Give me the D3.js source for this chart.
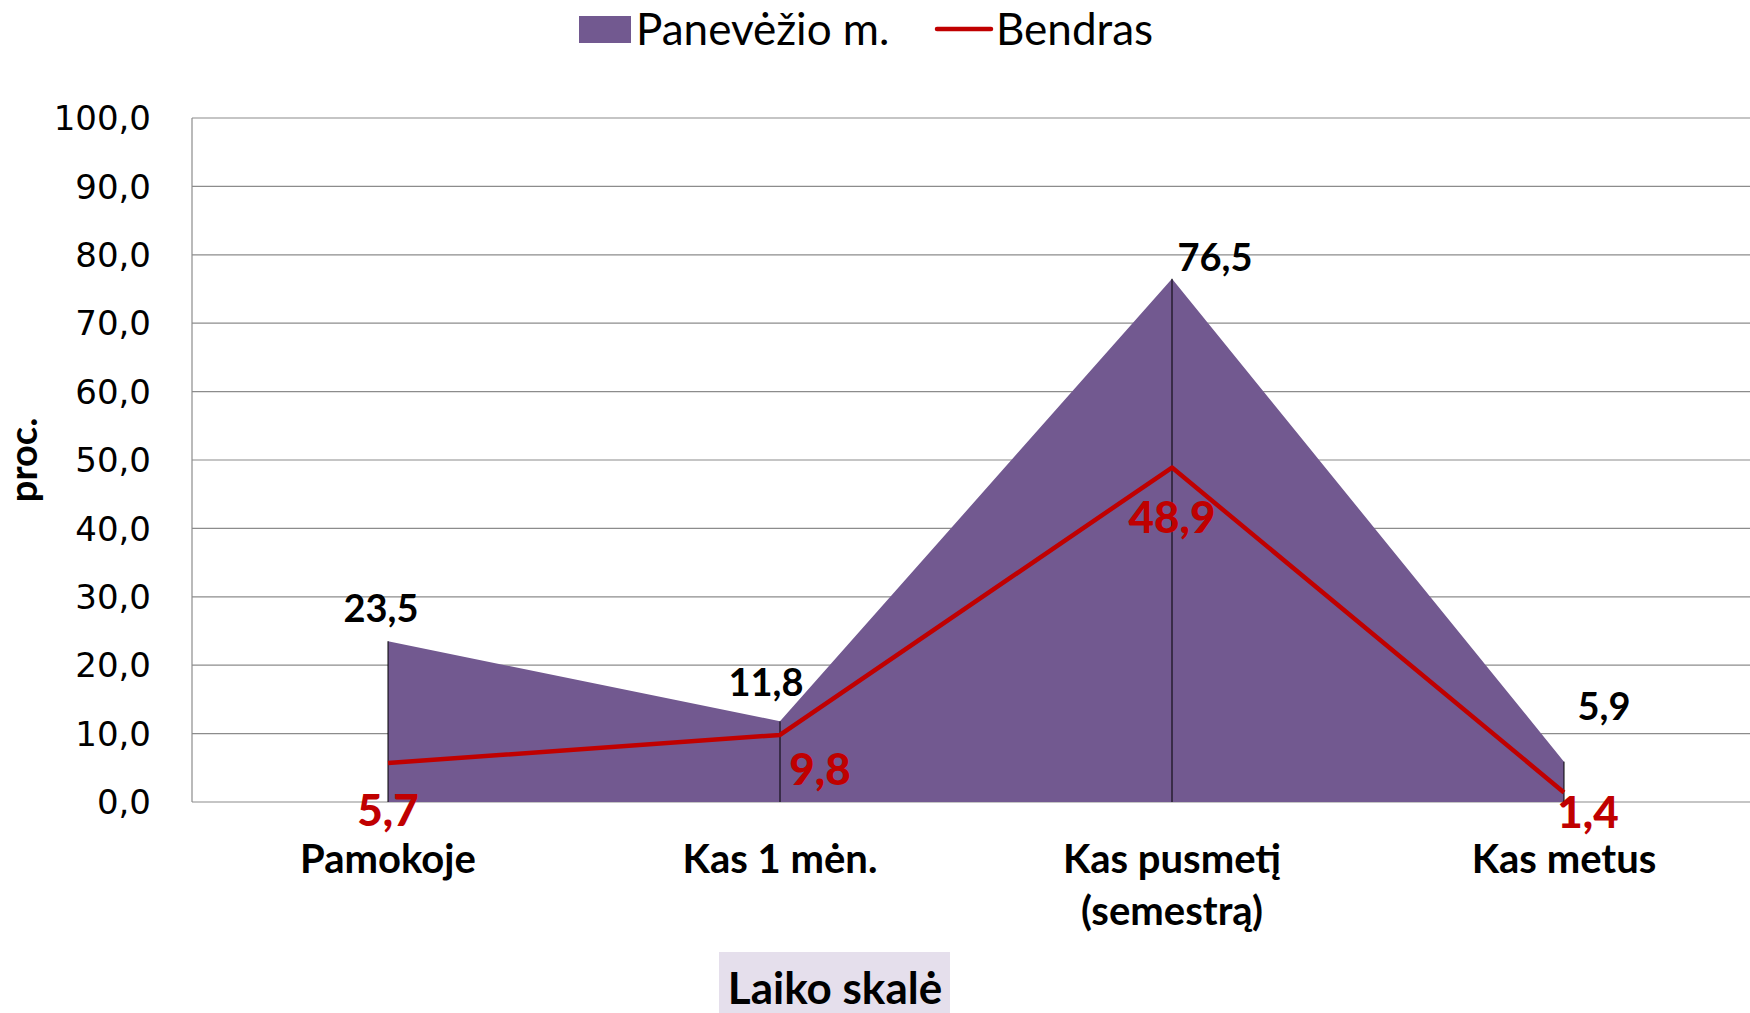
<!DOCTYPE html>
<html>
<head>
<meta charset="utf-8">
<script src="https://cdn.jsdelivr.net/npm/d3@7"></script>
<style>
  html, body { margin: 0; padding: 0; background: #fff; }
  svg { display: block; }
</style>
</head>
<body>
<svg id="chart" width="1750" height="1013"></svg>
<script>
// Categories (time scale) and the two series
const categories = ["Pamokoje", "Kas 1 mėn.", "Kas pusmetį\n(semestrą)", "Kas metus"];
const cityValues = [23.5, 11.8, 76.5, 5.9];     // Panevėžio m.
const overallValues = [5.7, 9.8, 48.9, 1.4];    // Bendras
const yTicks = [0, 10, 20, 30, 40, 50, 60, 70, 80, 90, 100];
const seriesNames = ["Panevėžio m.", "Bendras"];

const fmt = v => v.toFixed(1).replace(".", ",");

const svg = d3.select("#chart");
const margin = { left: 192, top: 118, bottom: 802 };
const plotRight = 1760;

const x = d3.scaleBand().domain(categories).range([margin.left, plotRight]);
const cx = c => x(c) + x.bandwidth() / 2;
const y = d3.scaleLinear().domain([0, 100]).range([margin.bottom, margin.top]);

const sansBold = "Lato, 'Open Sans', sans-serif";

// Gridlines
svg.append("g")
  .selectAll("line")
  .data(yTicks)
  .join("line")
  .attr("x1", margin.left).attr("x2", plotRight)
  .attr("y1", d => y(d)).attr("y2", d => y(d))
  .attr("stroke", "#8c8c8c").attr("stroke-width", 1.2);

// Left axis line
svg.append("line")
  .attr("x1", margin.left).attr("x2", margin.left)
  .attr("y1", y(100)).attr("y2", y(0))
  .attr("stroke", "#8c8c8c").attr("stroke-width", 1.2);

// Y tick labels
svg.append("g")
  .selectAll("text")
  .data(yTicks)
  .join("text")
  .attr("x", 151).attr("y", d => y(d))
  .attr("dy", "0.36em")
  .attr("text-anchor", "end")
  .attr("font-family", "'DejaVu Sans', sans-serif")
  .attr("font-size", 34)
  .attr("fill", "#000")
  .text(fmt);

// Area series
const pts = categories.map((c, i) => ({ c, v: cityValues[i], w: overallValues[i] }));
const area = d3.area().x(d => cx(d.c)).y0(y(0)).y1(d => y(d.v));
svg.append("path")
  .datum(pts)
  .attr("d", area)
  .attr("fill", "#725990");

// Drop lines
svg.append("g")
  .selectAll("line")
  .data(pts)
  .join("line")
  .attr("x1", d => cx(d.c)).attr("x2", d => cx(d.c))
  .attr("y1", d => y(d.v)).attr("y2", y(0))
  .attr("stroke", "#000").attr("stroke-width", 1);

// Line series
const line = d3.line().x(d => cx(d.c)).y(d => y(d.w));
svg.append("path")
  .datum(pts)
  .attr("d", line)
  .attr("fill", "none")
  .attr("stroke", "#C00000")
  .attr("stroke-width", 4.5)
  .attr("stroke-linejoin", "round");

// Area value labels
const areaLabelOffset = [[-7, -19], [-14, -25], [43, -8], [40, -42]];
svg.append("g")
  .selectAll("text")
  .data(pts)
  .join("text")
  .attr("x", (d, i) => cx(d.c) + areaLabelOffset[i][0])
  .attr("y", (d, i) => y(d.v) + areaLabelOffset[i][1])
  .attr("text-anchor", "middle")
  .attr("font-family", sansBold)
  .attr("font-weight", "bold")
  .attr("font-size", 38)
  .attr("fill", "#000")
  .text(d => fmt(d.v));

// Line value labels
const lineLabelOffset = [[0, 63], [40, 50], [0, 65], [24, 36]];
svg.append("g")
  .selectAll("text")
  .data(pts)
  .join("text")
  .attr("x", (d, i) => cx(d.c) + lineLabelOffset[i][0])
  .attr("y", (d, i) => y(d.w) + lineLabelOffset[i][1])
  .attr("text-anchor", "middle")
  .attr("font-family", sansBold)
  .attr("font-weight", 900)
  .attr("font-size", 44)
  .attr("fill", "#C00000")
  .text(d => fmt(d.w));

// Category labels
const catG = svg.append("g");
categories.forEach(c => {
  const t = catG.append("text")
    .attr("x", cx(c)).attr("y", 873)
    .attr("text-anchor", "middle")
    .attr("font-family", sansBold)
    .attr("font-weight", "bold")
    .attr("font-size", 40)
    .attr("fill", "#000");
  c.split("\n").forEach((part, i) => {
    t.append("tspan").attr("x", cx(c)).attr("dy", i === 0 ? 0 : 52).text(part);
  });
});

// Y axis title
svg.append("text")
  .attr("transform", "translate(37,460) rotate(-90)")
  .attr("text-anchor", "middle")
  .attr("font-family", sansBold)
  .attr("font-weight", "bold")
  .attr("font-size", 38)
  .attr("fill", "#000")
  .text("proc.");

// X axis title with shaded box
svg.append("rect")
  .attr("x", 719).attr("y", 952).attr("width", 231).attr("height", 61)
  .attr("fill", "#E5DFEC");
svg.append("text")
  .attr("x", 835).attr("y", 1004)
  .attr("text-anchor", "middle")
  .attr("font-family", sansBold)
  .attr("font-weight", "bold")
  .attr("font-size", 44)
  .attr("fill", "#000")
  .text("Laiko skalė");

// Legend
const legend = svg.append("g").attr("font-family", "Lato, 'Open Sans', sans-serif").attr("font-size", 44).attr("fill", "#000");
legend.append("rect").attr("x", 579).attr("y", 16).attr("width", 52).attr("height", 27).attr("fill", "#725990");
legend.append("text").attr("x", 636).attr("y", 45).text(seriesNames[0]);
legend.append("line").attr("x1", 937).attr("x2", 991).attr("y1", 29).attr("y2", 29)
  .attr("stroke", "#C00000").attr("stroke-width", 4.5).attr("stroke-linecap", "round");
legend.append("text").attr("x", 996).attr("y", 45).text(seriesNames[1]);
</script>
</body>
</html>
